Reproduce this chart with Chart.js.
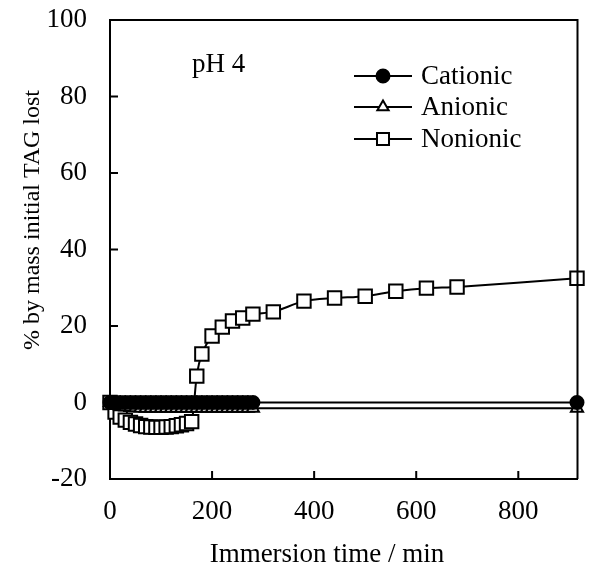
<!DOCTYPE html>
<html>
<head>
<meta charset="utf-8">
<script src="https://cdn.jsdelivr.net/npm/chart.js@4"></script>
<style>
  html, body { margin: 0; padding: 0; background: #fff; }
  #wrap { width: 589px; height: 578px; }
</style>
</head>
<body>
<div id="wrap"><canvas id="chart" width="589" height="578"></canvas></div>
<script>
// immersion time (min) and % by mass initial TAG lost
var timeCat = [0, 10, 20, 30, 40, 50, 60, 70, 80, 90, 100, 110, 120, 130, 140, 150, 160, 170, 180, 190, 200, 210, 220, 230, 240, 250, 260, 270, 280, 915];
var cationic = [0, 0, 0, 0, 0, 0, 0, 0, 0, 0, 0, 0, 0, 0, 0, 0, 0, 0, 0, 0, 0, 0, 0, 0, 0, 0, 0, 0, 0, 0];
var timeAni = [0, 10, 20, 30, 40, 50, 60, 70, 80, 90, 100, 110, 120, 130, 140, 150, 160, 170, 180, 190, 200, 210, 220, 230, 240, 250, 260, 270, 280, 915];
var anionic = [0, -0.8, -1, -1.2, -1.3, -1.4, -1.5, -1.5, -1.5, -1.5, -1.5, -1.5, -1.5, -1.5, -1.5, -1.5, -1.5, -1.5, -1.5, -1.5, -1.5, -1.5, -1.5, -1.5, -1.5, -1.5, -1.5, -1.5, -1.5, -1.5];
var timeNon = [0, 10, 20, 30, 40, 50, 60, 70, 80, 90, 100, 110, 120, 130, 140, 150, 160, 170, 180, 200, 220, 240, 260, 280, 320, 380, 440, 500, 560, 620, 680, 915];
var nonionic = [0, -2.5, -3.8, -4.6, -5.2, -5.6, -6.0, -6.3, -6.4, -6.5, -6.5, -6.4, -6.3, -6.1, -5.8, -5.5, -5.0, 6.9, 12.7, 17.4, 19.7, 21.3, 22.1, 23.1, 23.7, 26.5, 27.3, 27.8, 29.1, 29.9, 30.2, 32.5];

var xTicks = [0, 200, 400, 600, 800];
var yTicks = [-20, 0, 20, 40, 60, 80, 100];

var FONT = "'Liberation Serif', 'Times New Roman', serif";

function pts(xs, ys) {
  return xs.map(function (x, i) { return { x: x, y: ys[i] }; });
}

var seriesStyle = {
  borderColor: '#000',
  pointBorderColor: '#000',
  borderWidth: 2,
  pointBorderWidth: 2,
  clip: false
};

var extras = {
  id: 'extras',
  afterDraw: function (chart) {
    var ctx = chart.ctx, a = chart.chartArea;
    var xs = chart.scales.x, ys = chart.scales.y;
    ctx.save();
    ctx.strokeStyle = '#000';
    ctx.lineWidth = 2;
    // frame top/right
    ctx.beginPath();
    ctx.moveTo(a.left, a.top);
    ctx.lineTo(a.right, a.top);
    ctx.lineTo(a.right, a.bottom);
    ctx.stroke();
    // inward ticks
    ctx.beginPath();
    xTicks.forEach(function (v) {
      var px = xs.getPixelForValue(v);
      ctx.moveTo(px, a.bottom);
      ctx.lineTo(px, a.bottom - 8);
    });
    yTicks.forEach(function (v) {
      var py = ys.getPixelForValue(v);
      ctx.moveTo(a.left, py);
      ctx.lineTo(a.left + 8, py);
    });
    ctx.stroke();

    // axis titles
    ctx.fillStyle = '#000';
    ctx.textAlign = 'center';
    ctx.textBaseline = 'middle';
    ctx.font = '27px ' + FONT;
    ctx.fillText('Immersion time / min', 327, 555);
    ctx.save();
    ctx.translate(33, 220);
    ctx.rotate(-Math.PI / 2);
    ctx.font = '24px ' + FONT;
    ctx.fillText('% by mass initial TAG lost', 0, 0);
    ctx.restore();

    // pH label
    ctx.textAlign = 'left';
    ctx.font = '27px ' + FONT;
    ctx.fillText('pH 4', 192, 65);

    // legend
    var rows = [76, 107, 139];
    chart.data.datasets.forEach(function (ds, i) {
      var y = rows[i];
      ctx.lineWidth = 2;
      ctx.strokeStyle = '#000';
      ctx.beginPath();
      ctx.moveTo(354, y);
      ctx.lineTo(412, y);
      ctx.stroke();
      ctx.fillStyle = ds.pointBackgroundColor;
      Chart.helpers.drawPoint(ctx, {
        pointStyle: ds.pointStyle,
        radius: ds.legendRadius,
        borderWidth: 2,
        rotation: 0
      }, 383, y);
      ctx.fillStyle = '#000';
      ctx.font = '27px ' + FONT;
      ctx.fillText(ds.label, 421, y + 1);
    });
    ctx.restore();
  }
};

new Chart(document.getElementById('chart'), {
  type: 'line',
  data: {
    datasets: [
      Object.assign({
        label: 'Cationic',
        data: pts(timeCat, cationic),
        pointStyle: 'circle',
        pointRadius: 6.5,
        legendRadius: 6.5,
        pointBackgroundColor: '#000',
        tension: 0
      }, seriesStyle),
      Object.assign({
        label: 'Anionic',
        data: pts(timeAni, anionic),
        pointStyle: 'triangle',
        pointRadius: 7,
        legendRadius: 6.5,
        pointBackgroundColor: '#fff',
        tension: 0
      }, seriesStyle),
      Object.assign({
        label: 'Nonionic',
        data: pts(timeNon, nonionic),
        pointStyle: 'rect',
        pointRadius: 9.5,
        legendRadius: 8.5,
        pointBackgroundColor: '#fff',
        tension: 0.3
      }, seriesStyle)
    ]
  },
  options: {
    responsive: false,
    animation: false,
    events: [],
    layout: { padding: { top: 20, right: 1, left: 0, bottom: 0 } },
    plugins: {
      legend: { display: false },
      tooltip: { enabled: false }
    },
    scales: {
      x: {
        type: 'linear',
        min: 0,
        max: 916,
        afterBuildTicks: function (s) {
          s.ticks = xTicks.map(function (v) { return { value: v }; });
        },
        afterFit: function (s) {
          s.height = 99;
          s.paddingLeft = 0; s.paddingRight = 0; s.paddingTop = 0; s.paddingBottom = 0;
        },
        ticks: { color: '#000', font: { family: FONT, size: 27 }, padding: 17 },
        grid: { display: false, drawTicks: false },
        border: { color: '#000', width: 2 }
      },
      y: {
        type: 'linear',
        min: -20,
        max: 100,
        afterBuildTicks: function (s) {
          s.ticks = yTicks.map(function (v) { return { value: v }; });
        },
        afterFit: function (s) {
          s.width = 110;
          s.paddingLeft = 0; s.paddingRight = 0; s.paddingTop = 0; s.paddingBottom = 0;
        },
        ticks: { color: '#000', font: { family: FONT, size: 27 }, padding: 23 },
        grid: { display: false, drawTicks: false },
        border: { color: '#000', width: 2 }
      }
    }
  },
  plugins: [extras]
});
</script>
</body>
</html>
